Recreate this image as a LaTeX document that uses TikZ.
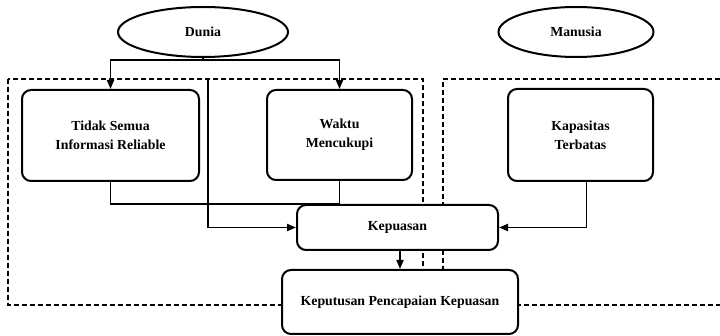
\documentclass[tikz,border=0pt]{standalone}
\usepackage{fontspec}
\setmainfont{Liberation Serif}
\usetikzlibrary{arrows.meta,shapes.geometric}
\begin{document}
\begin{tikzpicture}[x=1pt,y=-1pt,
  lbl/.style={font=\bfseries\fontsize{13.8}{19}\selectfont},
  box/.style={lbl, draw, line width=2pt, rounded corners=9pt, fill=white, align=center, inner sep=0pt},
  oval/.style={lbl, draw, ellipse, line width=2pt, fill=white, inner sep=0pt},
  conn/.style={line width=1.9pt},
  arr/.style={conn, -{Triangle[length=9pt,width=7pt]}},
  region/.style={line width=2.5pt, dash pattern=on 5pt off 3pt}]
\useasboundingbox (0,0) rectangle (720,336);
% dashed regions
\draw[region] (8,79) rectangle (423,305);
\draw[region] (720,79) -- (443,79) -- (443,305) -- (720,305);
% nodes
\node[oval, minimum width=170pt, minimum height=50pt] (dunia) at (203,32) {Dunia};
\node[oval, minimum width=155pt, minimum height=50pt] (manusia) at (576,32) {Manusia};
\node[box, minimum width=177pt, minimum height=91pt] (tidak) at (110.5,135.5) {Tidak Semua\\Informasi Reliable};
\node[box, minimum width=145pt, minimum height=90pt] (waktu) at (339.5,135) {Waktu\\Mencukupi};
\node[box, minimum width=145pt, minimum height=92pt] (kapasitas) at (580.5,135) {Kapasitas\\Terbatas};
\node[box, minimum width=201pt, minimum height=45pt] (kepuasan) at (397.5,227.5) {Kepuasan};
\node[box, minimum width=236pt, minimum height=64pt] (keputusan) at (400,302) {Keputusan Pencapaian Kepuasan};
% connectors
\coordinate (dj) at (203,60);
\coordinate (vtop) at (208,80);
\draw[conn] (dunia.south) -- (dj);
\draw[arr] (dj) -| (tidak.north);
\draw[arr] (dj) -| (waktu.north);
\draw[conn] (tidak.south) -- ++(0,22) -| (waktu.south);
\draw[arr] (vtop) |- (kepuasan.west);
\draw[arr] ([xshift=6pt]kapasitas.south) |- (kepuasan.east);
\draw[arr] (kepuasan.south -| keputusan.north) -- (keputusan.north);
\end{tikzpicture}
\end{document}
